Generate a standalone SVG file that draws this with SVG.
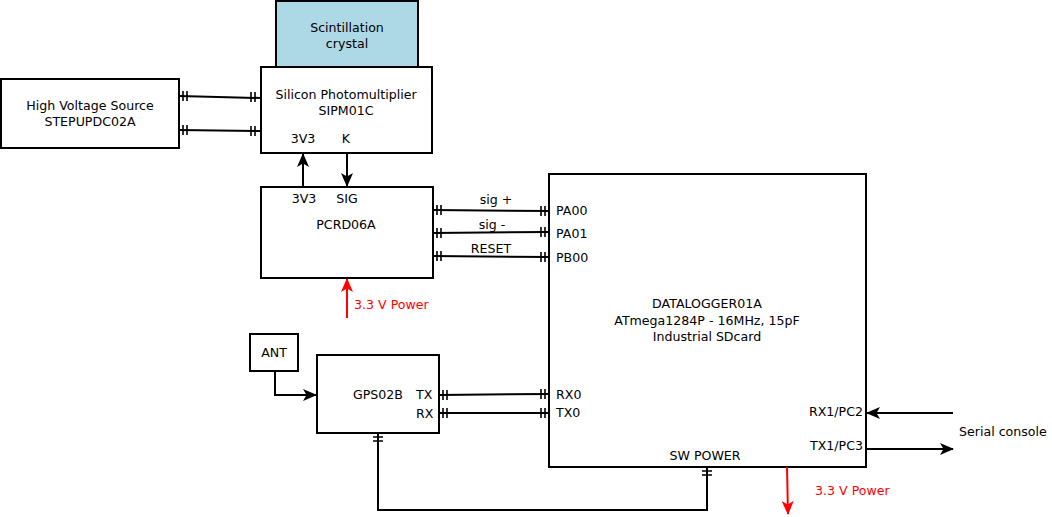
<svg xmlns="http://www.w3.org/2000/svg" width="1052" height="517" viewBox="0 0 1052 517">
<style>
.box{fill:#fff;stroke:#000;stroke-width:2}
.t{font-family:"DejaVu Sans",sans-serif;font-size:12.6px;fill:#000}
.m{text-anchor:middle}
.e{text-anchor:end}
.red{fill:#ff0000}
.ln{fill:none;stroke:#000;stroke-width:2}
.tk{fill:none;stroke:#000;stroke-width:1.6}
.rl{fill:none;stroke:#ff0000;stroke-width:2}
</style>
<defs>
<marker id="ah" markerWidth="14" markerHeight="12" refX="13" refY="6" orient="auto" markerUnits="userSpaceOnUse">
<path d="M0,0 L14,6 L0,12 L3.5,6 z" fill="#000"/>
</marker>
<marker id="ahr" markerWidth="14" markerHeight="12" refX="13" refY="6" orient="auto" markerUnits="userSpaceOnUse">
<path d="M0,0 L14,6 L0,12 L3.5,6 z" fill="#ff0000"/>
</marker>
</defs>

<g id="hv">
<rect class="box" x="1" y="79" width="178" height="69"/>
<text class="t m" x="90" y="110">High Voltage Source</text>
<text class="t m" x="90" y="126">STEPUPDC02A</text>
</g>
<g id="crystal">
<rect x="276" y="1" width="142" height="66" fill="#add8e6" stroke="#000" stroke-width="2"/>
<text class="t m" x="347" y="32">Scintillation</text>
<text class="t m" x="347" y="48">crystal</text>
</g>
<g id="sipm">
<rect class="box" x="261" y="67" width="171" height="86"/>
<text class="t m" x="346" y="99">Silicon Photomultiplier</text>
<text class="t m" x="346" y="115">SIPM01C</text>
<text class="t m" x="303" y="143">3V3</text>
<text class="t m" x="346" y="143">K</text>
</g>
<g id="pcrd">
<rect class="box" x="261" y="187" width="172" height="91"/>
<text class="t m" x="304" y="203">3V3</text>
<text class="t m" x="347" y="203">SIG</text>
<text class="t m" x="346" y="229">PCRD06A</text>
</g>
<g id="datalogger">
<rect class="box" x="549" y="174" width="317" height="293"/>
<text class="t" x="556" y="215">PA00</text>
<text class="t" x="556" y="238">PA01</text>
<text class="t" x="556" y="262">PB00</text>
<text class="t m" x="707" y="308">DATALOGGER01A</text>
<text class="t m" x="707" y="325">ATmega1284P - 16MHz, 15pF</text>
<text class="t m" x="707" y="341">Industrial SDcard</text>
<text class="t" x="556" y="399">RX0</text>
<text class="t" x="556" y="417">TX0</text>
<text class="t e" x="863" y="416">RX1/PC2</text>
<text class="t e" x="863" y="450">TX1/PC3</text>
<text class="t m" x="705" y="460">SW POWER</text>
</g>
<g id="ant">
<rect class="box" x="250" y="334" width="48" height="37"/>
<text class="t m" x="274" y="357">ANT</text>
</g>
<g id="gps">
<rect class="box" x="317" y="355" width="122" height="78"/>
<text class="t m" x="378" y="399">GPS02B</text>
<text class="t" x="416" y="399">TX</text>
<text class="t" x="416" y="418">RX</text>
</g>

<g id="connectors">
<path class="ln" d="M179,96 L261,98"/>
<path class="tk" d="M183,91 v10 M187,91 v10 M251,92 v10 M255,92 v10"/>
<path class="ln" d="M179,130 L261,131"/>
<path class="tk" d="M183,125 v10 M187,125 v10 M251,126 v10 M255,126 v10"/>

<path class="ln" d="M303,187 L303,154" marker-end="url(#ah)"/>
<path class="ln" d="M347,153 L347,186" marker-end="url(#ah)"/>

<path class="ln" d="M433,210 L549,211"/>
<path class="tk" d="M437,205 v10 M441,205 v10 M541,206 v10 M545,206 v10"/>
<text class="t m" x="496" y="204">sig +</text>
<path class="ln" d="M433,233 L549,232"/>
<path class="tk" d="M437,228 v10 M441,228 v10 M541,227 v10 M545,227 v10"/>
<text class="t m" x="492" y="229">sig -</text>
<path class="ln" d="M433,256 L549,257"/>
<path class="tk" d="M437,251 v10 M441,251 v10 M541,252 v10 M545,252 v10"/>
<text class="t m" x="491" y="253">RESET</text>

<path class="rl" d="M347,318 L347,279" marker-end="url(#ahr)"/>
<text class="t red" x="354" y="309">3.3 V Power</text>

<path class="ln" d="M275,371 L275,395 L316,395" marker-end="url(#ah)"/>

<path class="ln" d="M439,395 L549,394"/>
<path class="tk" d="M443,390 v10 M447,390 v10 M541,389 v10 M545,389 v10"/>
<path class="ln" d="M439,413 L549,413"/>
<path class="tk" d="M443,408 v10 M447,408 v10 M541,408 v10 M545,408 v10"/>

<path class="ln" d="M378,433 L378,510 L707,510 L707,467"/>
<path class="tk" d="M373,437 h10 M373,441 h10 M702,471 h10 M702,475 h10"/>

<path class="rl" d="M787,467 L788,514" marker-end="url(#ahr)"/>
<text class="t red" x="815" y="495">3.3 V Power</text>

<path class="ln" d="M953,413 L867,413" marker-end="url(#ah)"/>
<path class="ln" d="M866,449 L953,449" marker-end="url(#ah)"/>
<text class="t" x="959" y="436">Serial console</text>
</g>
</svg>
